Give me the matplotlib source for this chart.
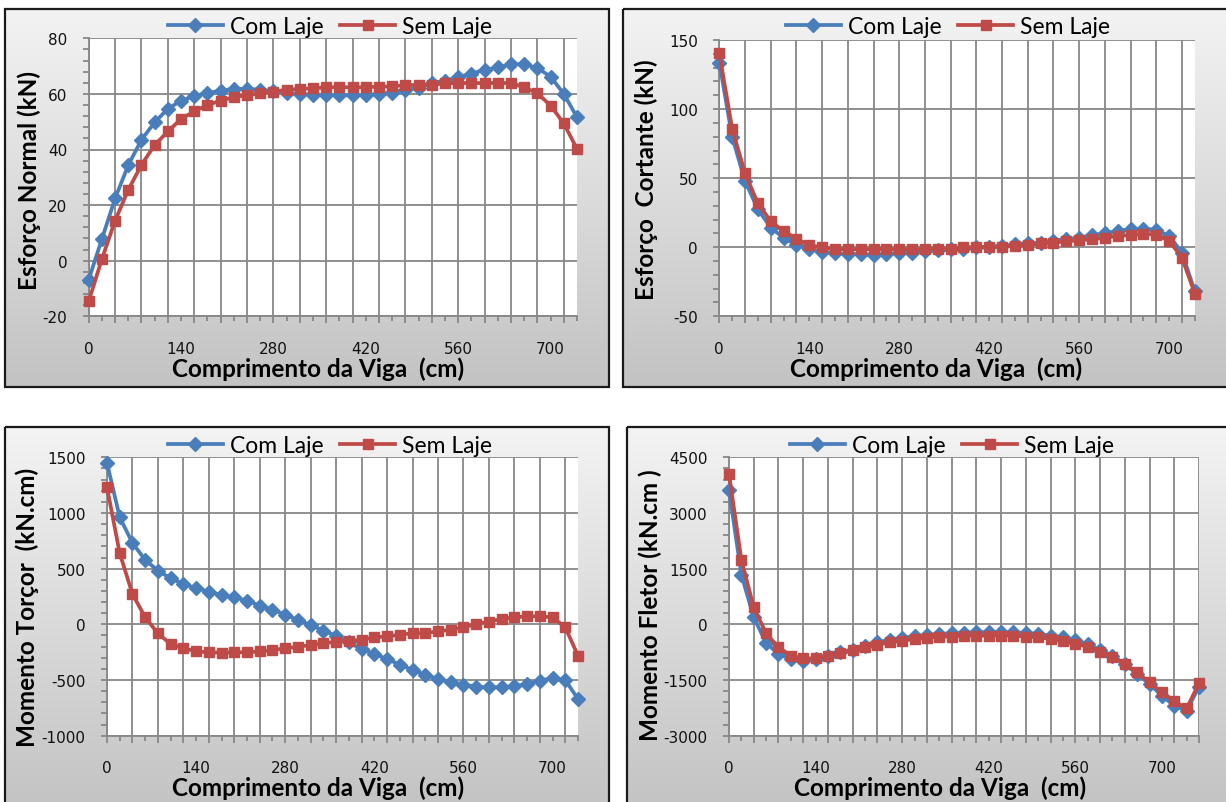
import numpy as np
import matplotlib
matplotlib.use("Agg")
import matplotlib.pyplot as plt
from matplotlib.colors import LinearSegmentedColormap
from matplotlib.patches import Rectangle
from matplotlib.ticker import MultipleLocator, NullFormatter

plt.rcParams['axes.unicode_minus'] = False

# ---------------- data ----------------
x_cm = [0, 20, 40, 60, 80, 100, 120, 140, 160, 180, 200, 220, 240, 260, 280, 300,
        320, 340, 360, 380, 400, 420, 440, 460, 480, 500, 520, 540, 560, 580, 600,
        620, 640, 660, 680, 700, 720, 740]
x_cm_fletor = x_cm + [760]

normal_com = [-6.8, 7.8, 22.4, 34.4, 43.5, 49.8, 54.6, 57.6, 59.2, 60.3, 61.2, 61.8, 61.8,
              61.5, 61.0, 60.3, 60.0, 59.7, 59.6, 59.5, 59.5, 59.6, 60.0, 60.5, 61.5, 62.3,
              63.8, 64.7, 66.0, 67.3, 68.6, 69.5, 70.7, 70.7, 69.3, 66.2, 60.0, 51.6]
normal_sem = [-14.6, 0.6, 14.4, 25.5, 34.5, 41.6, 46.5, 51.0, 53.7, 56.0, 57.6, 58.8, 59.6,
              60.2, 60.8, 61.5, 61.8, 62.0, 62.4, 62.4, 62.4, 62.4, 62.6, 62.7, 63.2, 63.2,
              63.3, 63.8, 63.9, 63.9, 63.9, 63.9, 63.9, 62.4, 60.2, 55.8, 49.4, 40.2]

cortante_com = [133.7, 79.9, 48.0, 27.5, 14.2, 6.8, 1.4, -1.4, -3.4, -4.3, -5.0, -5.0, -5.5,
                -4.8, -4.3, -3.9, -2.9, -1.9, -1.4, -1.0, 0.0, 0.5, 1.0, 2.0, 2.7, 3.4, 4.6,
                5.8, 6.8, 8.7, 10.1, 11.8, 13.0, 13.5, 12.5, 8.2, -3.9, -32.0]
cortante_sem = [140.4, 85.9, 53.6, 31.8, 18.8, 11.6, 6.3, 1.4, 0.0, -1.4, -1.4, -1.4, -1.4,
                -1.4, -1.4, -1.4, -1.4, -1.0, -1.0, 0.0, 0.0, 0.2, 0.5, 1.0, 1.4, 2.7, 3.4,
                4.3, 5.0, 5.8, 6.8, 8.2, 8.7, 9.9, 8.9, 4.6, -7.5, -33.5]

torcor_com = [1449, 961, 731, 578, 482, 413, 362, 326, 293, 263, 243, 213, 168, 132, 87, 39,
              -6, -57, -102, -162, -222, -266, -311, -362, -410, -452, -491, -521, -542,
              -560, -566, -566, -557, -536, -506, -482, -500, -671]
torcor_sem = [1231, 638, 272, 63, -81, -177, -213, -243, -251, -254, -251, -251, -243, -231,
              -216, -201, -186, -171, -156, -147, -138, -117, -108, -93, -81, -78, -63, -48,
              -27, 3, 24, 48, 63, 72, 72, 63, -27, -281]

fletor_com = [3629, 1338, 189, -503, -799, -934, -997, -934, -844, -754, -692, -575, -485,
              -422, -368, -323, -287, -260, -242, -225, -216, -216, -216, -216, -233, -260,
              -305, -350, -422, -530, -692, -844, -1069, -1338, -1608, -1922, -2192, -2326,
              -1680]
fletor_sem = [4051, 1734, 458, -243, -620, -844, -916, -916, -844, -782, -692, -602, -548,
              -485, -440, -395, -368, -332, -332, -305, -305, -305, -305, -305, -332, -350,
              -395, -458, -530, -602, -737, -889, -1069, -1293, -1563, -1832, -2075, -2263,
              -1590]

x_labels = [0, 140, 280, 420, 560, 700]
series_names = ["Com Laje", "Sem Laje"]
y_titles = ["Esforço Normal (kN)", "Esforço  Cortante (kN)",
            "Momento Torçor  (kN.cm)", "Momento Fletor (kN.cm )"]
x_title = "Comprimento da Viga  (cm)"

# ---------------- style ----------------
W, H = 1226, 803
BLUE = "#4A7EBB"
RED = "#BE4B48"
GRID = "#878787"
TITLE_FONT = ["Lato", "DejaVu Sans"]
TICK_FONT = ["DejaVu Sans"]

fig = plt.figure(figsize=(W / 100, H / 100), dpi=100)
bg = fig.add_axes([0, 0, 1, 1])
bg.axis('off')
cmap = LinearSegmentedColormap.from_list("g", ["#f3f3f3", "#c3c3c3"])
grad = np.linspace(0, 1, 256).reshape(-1, 1)

boxes = [(5, 10, 609, 388), (623, 10, 1234, 388), (5, 428, 609, 812), (627, 428, 1234, 812)]
for (x0, y0, x1, y1) in boxes:
    bg.imshow(grad, extent=(x0, x1, y1, y0), cmap=cmap, aspect='auto',
              origin='upper', interpolation='bilinear')
    bg.add_patch(Rectangle((x0, y0), x1 - x0, y1 - y0, fill=False,
                           edgecolor="#1a1a1a", lw=1.6))
bg.set_xlim(0, W)
bg.set_ylim(H, 0)

panels = [
    dict(rect=(88.7, 39.3, 577, 317.3), x=x_cm, com=normal_com, sem=normal_sem,
         ylim=(-20, 80), major=20, minor=4, xmax=740,
         leg=(330, 28), ylab=(29, 180), xlab=(318, 369)),
    dict(rect=(719.3, 41, 1194.8, 317.3), x=x_cm, com=cortante_com, sem=cortante_sem,
         ylim=(-50, 150), major=50, minor=10, xmax=740,
         leg=(948, 28), ylab=(646, 180), xlab=(936, 369)),
    dict(rect=(107, 458.3, 578, 736.7), x=x_cm, com=torcor_com, sem=torcor_sem,
         ylim=(-1000, 1500), major=500, minor=100, xmax=740,
         leg=(330, 447), ylab=(27, 607), xlab=(318, 788)),
    dict(rect=(729, 458.3, 1199, 736.7), x=x_cm_fletor, com=fletor_com, sem=fletor_sem,
         ylim=(-3000, 4500), major=1500, minor=300, xmax=760,
         leg=(952, 447), ylab=(650, 605), xlab=(940, 788)),
]

for i, p in enumerate(panels):
    l, t, r, b = p['rect']
    ax = fig.add_axes([l / W, 1 - b / H, (r - l) / W, (b - t) / H])
    ax.set_facecolor("white")
    ax.plot(p['x'], p['com'], color=BLUE, lw=2.7, marker='D', ms=7.5,
            mec=BLUE, mfc=BLUE, label=series_names[0], zorder=3, clip_on=False)
    ax.plot(p['x'], p['sem'], color=RED, lw=2.7, marker='s', ms=6.5,
            mec=RED, mfc=RED, label=series_names[1], zorder=4, clip_on=False)
    ax.set_xlim(0, p['xmax'])
    ax.set_ylim(*p['ylim'])
    for s in ['top', 'right']:
        ax.spines[s].set_visible(False)
    for s in ['left', 'bottom']:
        ax.spines[s].set_color(GRID)
        ax.spines[s].set_linewidth(1.3)
    # x: gridlines every 40, ticks every 20
    ax.xaxis.set_major_locator(MultipleLocator(40))
    ax.xaxis.set_minor_locator(MultipleLocator(20))
    ax.xaxis.set_major_formatter(NullFormatter())
    ax.yaxis.set_major_locator(MultipleLocator(p['major']))
    ax.yaxis.set_minor_locator(MultipleLocator(p['minor']))
    ax.grid(True, which='major', color=GRID, lw=1.3)
    ax.set_axisbelow(True)
    ax.tick_params(axis='x', which='major', direction='out', length=5, width=1.3, color=GRID)
    ax.tick_params(axis='x', which='minor', direction='out', length=3.5, width=1.3, color=GRID)
    ax.tick_params(axis='y', which='major', direction='out', length=4.5, width=1.3, color=GRID,
                   pad=11, labelsize=11, labelcolor="#111111")
    ax.tick_params(axis='y', which='minor', direction='out', length=4, width=1.3, color=GRID)
    for lab in ax.get_yticklabels():
        lab.set_family(TICK_FONT)
    # category labels every 140
    sec = ax.secondary_xaxis('bottom')
    sec.set_xticks(x_labels)
    sec.set_xticklabels([str(v) for v in x_labels], family=TICK_FONT, fontsize=11,
                        color="#111111")
    sec.tick_params(length=0, pad=17.5)
    sec.spines['bottom'].set_visible(False)

    # axis titles
    fig.text(p['ylab'][0] / W, 1 - p['ylab'][1] / H, y_titles[i], rotation=90,
             ha='center', va='center', fontsize=17.5, fontweight='bold',
             family=TITLE_FONT, color="#000000")
    fig.text(p['xlab'][0] / W, 1 - p['xlab'][1] / H, x_title,
             ha='center', va='center', fontsize=17.5, fontweight='bold',
             family=TITLE_FONT, color="#000000")
    # legend
    ax.legend(loc='center', bbox_to_anchor=(p['leg'][0] / W, 1 - p['leg'][1] / H),
              bbox_transform=fig.transFigure, ncol=2, frameon=False,
              prop=dict(family=TITLE_FONT, size=16.5), handlelength=2.4,
              handletextpad=0.3, columnspacing=0.75, borderpad=0, borderaxespad=0)

fig.savefig("out.png", dpi=100)
